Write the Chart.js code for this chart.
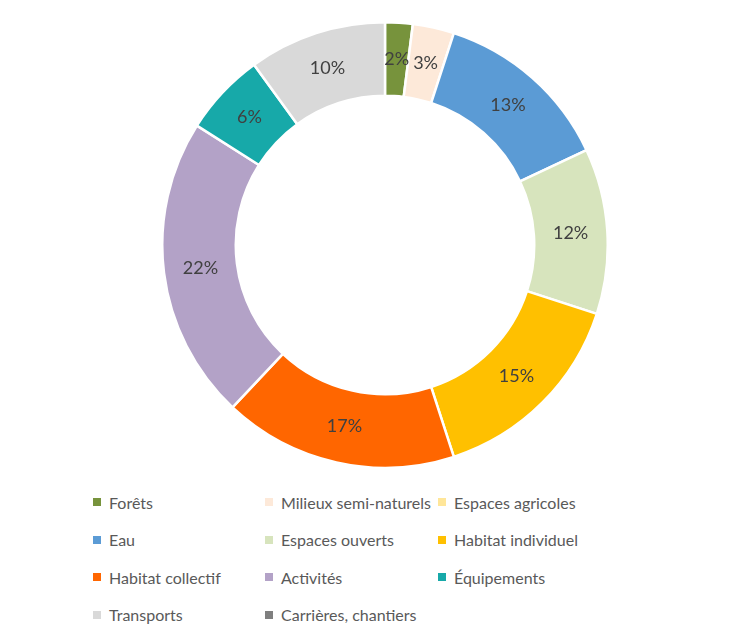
<!DOCTYPE html>
<html lang="fr">
<head>
<meta charset="utf-8">
<title>Occupation du sol</title>
<script src="https://cdn.jsdelivr.net/npm/chart.js@4"></script>
<style>
    html, body { margin: 0; padding: 0; background: #fff; }
    body { width: 754px; height: 636px; position: relative; overflow: hidden; font-family: Lato, "Open Sans", sans-serif; }
    #chartBox { position: absolute; left: 161px; top: 21px; width: 448px; height: 448px; }
    #legend { position: absolute; left: 93px; top: 491px; display: grid; grid-template-columns: 172px 173px 200px; row-gap: 15.5px; }
    .item { display: flex; align-items: center; font-size: 16px; color: #595959; height: 22px; white-space: nowrap; }
    .item span.box { width: 8px; height: 8px; margin-right: 8px; flex: none; }
</style>
</head>
<body>
<div id="chartBox"><canvas id="soilChart"></canvas></div>
<div id="legend"></div>
<script>
const categories = [
    'Forêts', 'Milieux semi-naturels', 'Espaces agricoles',
    'Eau', 'Espaces ouverts', 'Habitat individuel',
    'Habitat collectif', 'Activités', 'Équipements',
    'Transports', 'Carrières, chantiers'
];
const shares = [2, 3, 0, 13, 12, 15, 17, 22, 6, 10, 0];
const colors = [
    '#77933C', '#FDE9D9', '#FFE699',
    '#5B9BD5', '#D7E4BD', '#FFC000',
    '#FF6600', '#B3A2C7', '#17A9A9',
    '#D9D9D9', '#7F7F7F'
];

// Étiquettes de pourcentage au milieu de chaque secteur
const sliceLabels = {
    id: 'sliceLabels',
    afterDatasetsDraw(chart) {
        const ctx = chart.ctx;
        const meta = chart.getDatasetMeta(0);
        ctx.save();
        ctx.font = '18px Lato, "Open Sans", sans-serif';
        ctx.fillStyle = '#404040';
        ctx.textAlign = 'center';
        ctx.textBaseline = 'middle';
        meta.data.forEach((arc, i) => {
            const v = shares[i];
            if (!v) return;
            const p = arc.tooltipPosition();
            ctx.fillText(v + '%', p.x, p.y);
        });
        ctx.restore();
    }
};

new Chart(document.getElementById('soilChart').getContext('2d'), {
    type: 'doughnut',
    data: {
        labels: categories,
        datasets: [{
            data: shares,
            backgroundColor: colors,
            borderColor: '#ffffff',
            borderWidth: 2.5
        }]
    },
    options: {
        responsive: true,
        maintainAspectRatio: false,
        animation: false,
        cutout: '67%',
        layout: { padding: 0 },
        plugins: {
            legend: { display: false },
            tooltip: { enabled: false }
        }
    },
    plugins: [sliceLabels]
});

// Légende sur trois colonnes
const legend = document.getElementById('legend');
categories.forEach((name, i) => {
    const item = document.createElement('div');
    item.className = 'item';
    item.innerHTML = `<span class="box" style="background:${colors[i]}"></span>${name}`;
    legend.appendChild(item);
});
</script>
</body>
</html>
